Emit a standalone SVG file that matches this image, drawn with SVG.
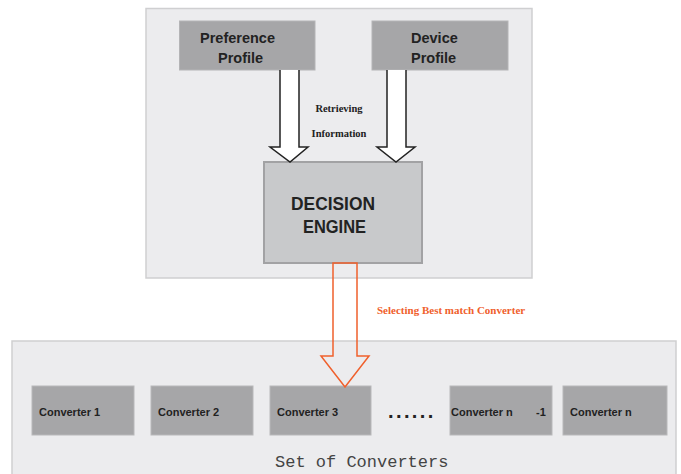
<svg xmlns="http://www.w3.org/2000/svg" width="681" height="474" viewBox="0 0 681 474">
<style>
.panel{fill:#ececee;stroke:#cfcfd1;stroke-width:1.5}
.prof{fill:#a6a6a8;stroke:#b4b4b6;stroke-width:1}
.conv{fill:#a6a6a8;stroke:#b8b8ba;stroke-width:1}
.eng{fill:#c8c9cb;stroke:#a2a2a4;stroke-width:2}
.sans{font-family:"Liberation Sans",Arial,sans-serif;font-weight:bold;fill:#222}
.serif{font-family:"Liberation Serif","Times New Roman",serif;font-weight:bold}
.blk{fill:#fff;stroke:#222;stroke-width:1.5;stroke-linejoin:miter}
.org{fill:none;stroke:#f0602c;stroke-width:1.5;stroke-linejoin:miter}
</style>
<rect width="681" height="474" fill="#fff"/>
<g id="top-panel"><rect class="panel" x="146" y="8.5" width="386" height="269.5"/></g>
<g id="bottom-panel">
<rect class="panel" x="12" y="341" width="664" height="140"/>
<text x="275" y="467" font-family="'Liberation Mono','Courier New',monospace" font-size="17" fill="#444">Set of Converters</text>
</g>
<g id="preference-profile">
<rect class="prof" x="179.5" y="21" width="135.5" height="49"/>
<text class="sans" x="200" y="43" font-size="14.5">Preference</text>
<text class="sans" x="218" y="63" font-size="14.5">Profile</text>
</g>
<g id="device-profile">
<rect class="prof" x="372" y="21" width="136" height="49"/>
<text class="sans" x="411" y="43" font-size="14.5">Device</text>
<text class="sans" x="411" y="63" font-size="14.5">Profile</text>
</g>
<g id="decision-engine">
<rect class="eng" x="264" y="162" width="158" height="101"/>
<text class="sans" x="291" y="210" font-size="18" textLength="84" lengthAdjust="spacingAndGlyphs">DECISION</text>
<text class="sans" x="303" y="233" font-size="18" textLength="63" lengthAdjust="spacingAndGlyphs">ENGINE</text>
</g>
<g id="converter-1"><rect class="conv" x="32" y="386" width="102" height="49"/><text class="sans" x="39" y="416" font-size="11">Converter 1</text></g>
<g id="converter-2"><rect class="conv" x="151" y="386" width="102" height="49"/><text class="sans" x="158" y="416" font-size="11">Converter 2</text></g>
<g id="converter-3"><rect class="conv" x="270" y="386" width="101" height="49"/><text class="sans" x="277" y="416" font-size="11">Converter 3</text></g>
<g id="ellipsis"><text class="sans" x="388" y="418" font-size="20" letter-spacing="2.4" fill="#111">......</text></g>
<g id="converter-n-1"><rect class="conv" x="450" y="386" width="102" height="49"/><text class="sans" x="451" y="416" font-size="11">Converter n</text><text class="sans" x="536" y="416" font-size="11">-1</text></g>
<g id="converter-n"><rect class="conv" x="563" y="386" width="104" height="49"/><text class="sans" x="570" y="416" font-size="11">Converter n</text></g>
<g id="connectors">
<path class="blk" d="M280,70 V147 H270 L290,162 L308,147 H299 V70"/>
<path class="blk" d="M387,70 V147 H377 L396,162 L415,147 H406 V70"/>
<text class="serif" x="339" y="112" font-size="10.5" text-anchor="middle" fill="#222">Retrieving</text>
<text class="serif" x="339" y="137" font-size="10.5" text-anchor="middle" fill="#222">Information</text>
<path class="org" d="M333,263 V356 H321 L345,387 L369,356 H357 V263 Z"/>
<text class="serif" x="377" y="314" font-size="11" fill="#f0602c">Selecting Best match Converter</text>
</g>
</svg>
